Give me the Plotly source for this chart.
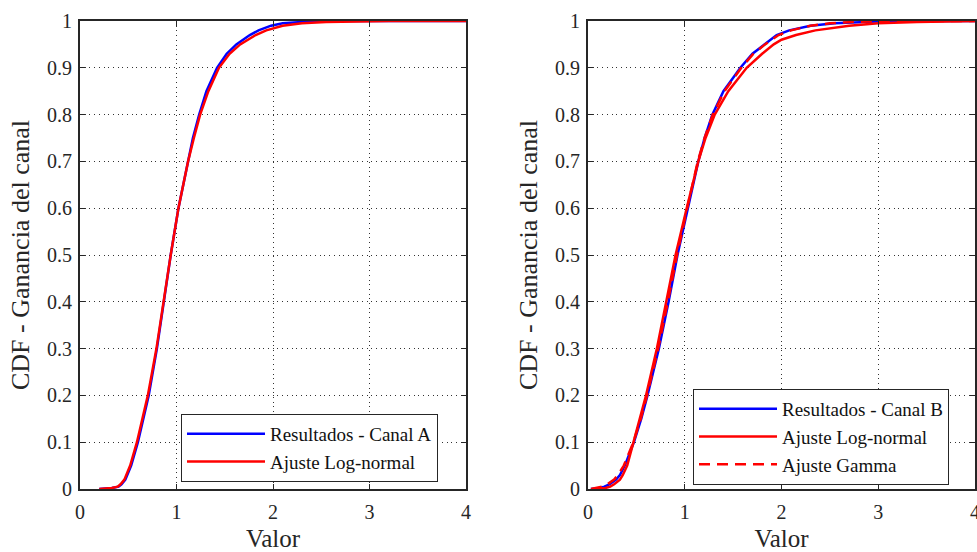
import plotly.graph_objects as go

# ---- data (x at which each CDF reaches the given level) ----
cdf_a_blue = [0, 0.002, 0.005, 0.01, 0.02, 0.05, 0.1, 0.15, 0.2, 0.3, 0.4, 0.5, 0.6, 0.7, 0.75, 0.8, 0.85,
              0.9, 0.93, 0.95, 0.97, 0.98, 0.99, 0.995, 0.998, 1.0, 1.0]
x_a_blue = [0.2, 0.33, 0.40, 0.43, 0.47, 0.53, 0.60, 0.66, 0.712, 0.797, 0.866, 0.94, 1.02, 1.115, 1.17, 1.235, 1.31,
            1.42, 1.52, 1.62, 1.76, 1.85, 1.98, 2.1, 2.3, 2.6, 4.0]

cdf_a_red = [0, 0.002, 0.005, 0.01, 0.02, 0.05, 0.1, 0.15, 0.2, 0.3, 0.4, 0.5, 0.6, 0.7, 0.75, 0.8, 0.85,
             0.9, 0.93, 0.95, 0.97, 0.98, 0.99, 0.995, 0.998, 0.999, 1.0, 1.0]
x_a_red = [0.2, 0.33, 0.39, 0.42, 0.46, 0.52, 0.59, 0.65, 0.703, 0.792, 0.864, 0.94, 1.02, 1.12, 1.18, 1.245, 1.33,
           1.44, 1.55, 1.66, 1.82, 1.93, 2.1, 2.3, 2.55, 2.8, 3.2, 4.0]

cdf_b_blue = [0, 0.002, 0.005, 0.01, 0.02, 0.03, 0.05, 0.1, 0.15, 0.2, 0.3, 0.4, 0.5, 0.6, 0.7, 0.75, 0.8, 0.85,
              0.9, 0.93, 0.95, 0.97, 0.98, 0.99, 0.995, 0.998, 1.0, 1.0]
x_b_blue = [0.03, 0.12, 0.17, 0.22, 0.29, 0.33, 0.38, 0.475, 0.55, 0.615, 0.733, 0.833, 0.925, 1.03, 1.14, 1.205, 1.285, 1.4,
            1.575, 1.70, 1.82, 1.95, 2.08, 2.3, 2.55, 2.8, 3.1, 4.0]

cdf_b_logn = [0, 0.002, 0.005, 0.01, 0.02, 0.03, 0.05, 0.1, 0.15, 0.2, 0.3, 0.4, 0.5, 0.6, 0.7, 0.75, 0.8, 0.85,
              0.9, 0.93, 0.95, 0.96, 0.97, 0.98, 0.99, 0.995, 0.998, 1.0]
x_b_logn = [0.05, 0.18, 0.23, 0.27, 0.33, 0.36, 0.405, 0.47, 0.54, 0.60, 0.712, 0.81, 0.905, 1.02, 1.14, 1.215, 1.31, 1.45,
            1.64, 1.80, 1.92, 2.0, 2.15, 2.35, 2.7, 3.0, 3.4, 4.0]

cdf_b_gamma = [0, 0.002, 0.005, 0.01, 0.02, 0.03, 0.05, 0.1, 0.15, 0.2, 0.3, 0.4, 0.5, 0.6, 0.7, 0.75, 0.8, 0.85,
               0.9, 0.93, 0.95, 0.97, 0.98, 0.99, 0.995, 0.998, 0.999, 1.0, 1.0]
x_b_gamma = [0.03, 0.10, 0.15, 0.20, 0.27, 0.31, 0.37, 0.47, 0.545, 0.61, 0.725, 0.825, 0.92, 1.025, 1.135, 1.205, 1.29, 1.41,
             1.585, 1.71, 1.83, 1.97, 2.1, 2.3, 2.5, 2.75, 2.9, 3.4, 4.0]

x_ticks = [0, 1, 2, 3, 4]
x_tick_labels = ["0", "1", "2", "3", "4"]
y_ticks = [0, 0.1, 0.2, 0.3, 0.4, 0.5, 0.6, 0.7, 0.8, 0.9, 1.0]
y_tick_labels = ["0", "0.1", "0.2", "0.3", "0.4", "0.5", "0.6", "0.7", "0.8", "0.9", "1"]

FONT = "Liberation Serif"
W, H = 977, 552
INK = "#262626"

fig = go.Figure()

def add(xv, yv, name, color, xa, ya, lg, dash="solid"):
    fig.add_trace(go.Scatter(x=xv, y=yv, mode="lines", name=name,
                             line=dict(color=color, width=2.5, dash=dash),
                             xaxis=xa, yaxis=ya, legend=lg))

add(x_a_blue, cdf_a_blue, "Resultados - Canal A", "#0000ff", "x", "y", "legend")
add(x_a_red, cdf_a_red, "Ajuste Log-normal", "#ff0000", "x", "y", "legend")
add(x_b_blue, cdf_b_blue, "Resultados - Canal B", "#0000ff", "x2", "y2", "legend2")
add(x_b_logn, cdf_b_logn, "Ajuste Log-normal", "#ff0000", "x2", "y2", "legend2")
add(x_b_gamma, cdf_b_gamma, "Ajuste Gamma", "#ff0000", "x2", "y2", "legend2", dash="11px,7px")

common = dict(showline=True, linecolor=INK, linewidth=2, mirror="ticks",
              ticks="inside", ticklen=5, tickcolor=INK, tickwidth=1,
              showgrid=True, gridcolor="#333333", griddash="1px,3.7px", gridwidth=1,
              zeroline=False, automargin=False, ticklabeloverflow="allow",
              tickfont=dict(family=FONT, size=20, color=INK))

def xaxis(domain, anchor):
    return dict(domain=domain, anchor=anchor, range=[0, 4], tickvals=x_ticks, ticktext=x_tick_labels,
                ticklabelstandoff=4,
                title=dict(text="Valor", font=dict(family=FONT, size=25, color=INK), standoff=12), **common)

def yaxis(domain, anchor):
    return dict(domain=domain, anchor=anchor, range=[0, 1], tickvals=y_ticks, ticktext=y_tick_labels,
                ticklabelstandoff=2,
                title=dict(text="CDF - Ganancia del canal", font=dict(family=FONT, size=26, color=INK), standoff=10),
                **common)

ydom = [(H - 489) / H, (H - 21) / H]
legend_common = dict(xanchor="left", yanchor="top", bgcolor="white", bordercolor=INK, borderwidth=1,
                     font=dict(family=FONT, size=19, color="#111111"), itemwidth=78, tracegroupgap=0)
fig.update_layout(
    width=W, height=H,
    margin=dict(l=0, r=0, t=0, b=0),
    paper_bgcolor="white", plot_bgcolor="white",
    xaxis=xaxis([80 / W, 466 / W], "y"),
    yaxis=yaxis(ydom, "x"),
    xaxis2=xaxis([588 / W, 975 / W], "y2"),
    yaxis2=yaxis(ydom, "x2"),
    legend=dict(x=181 / W, y=(H - 414) / H, **legend_common),
    legend2=dict(x=693 / W, y=(H - 389) / H, **legend_common),
    showlegend=True,
)

fig.write_html("out.html", config={"displayModeBar": False},
               post_script="document.body.style.margin='0';document.body.style.overflow='hidden';")
